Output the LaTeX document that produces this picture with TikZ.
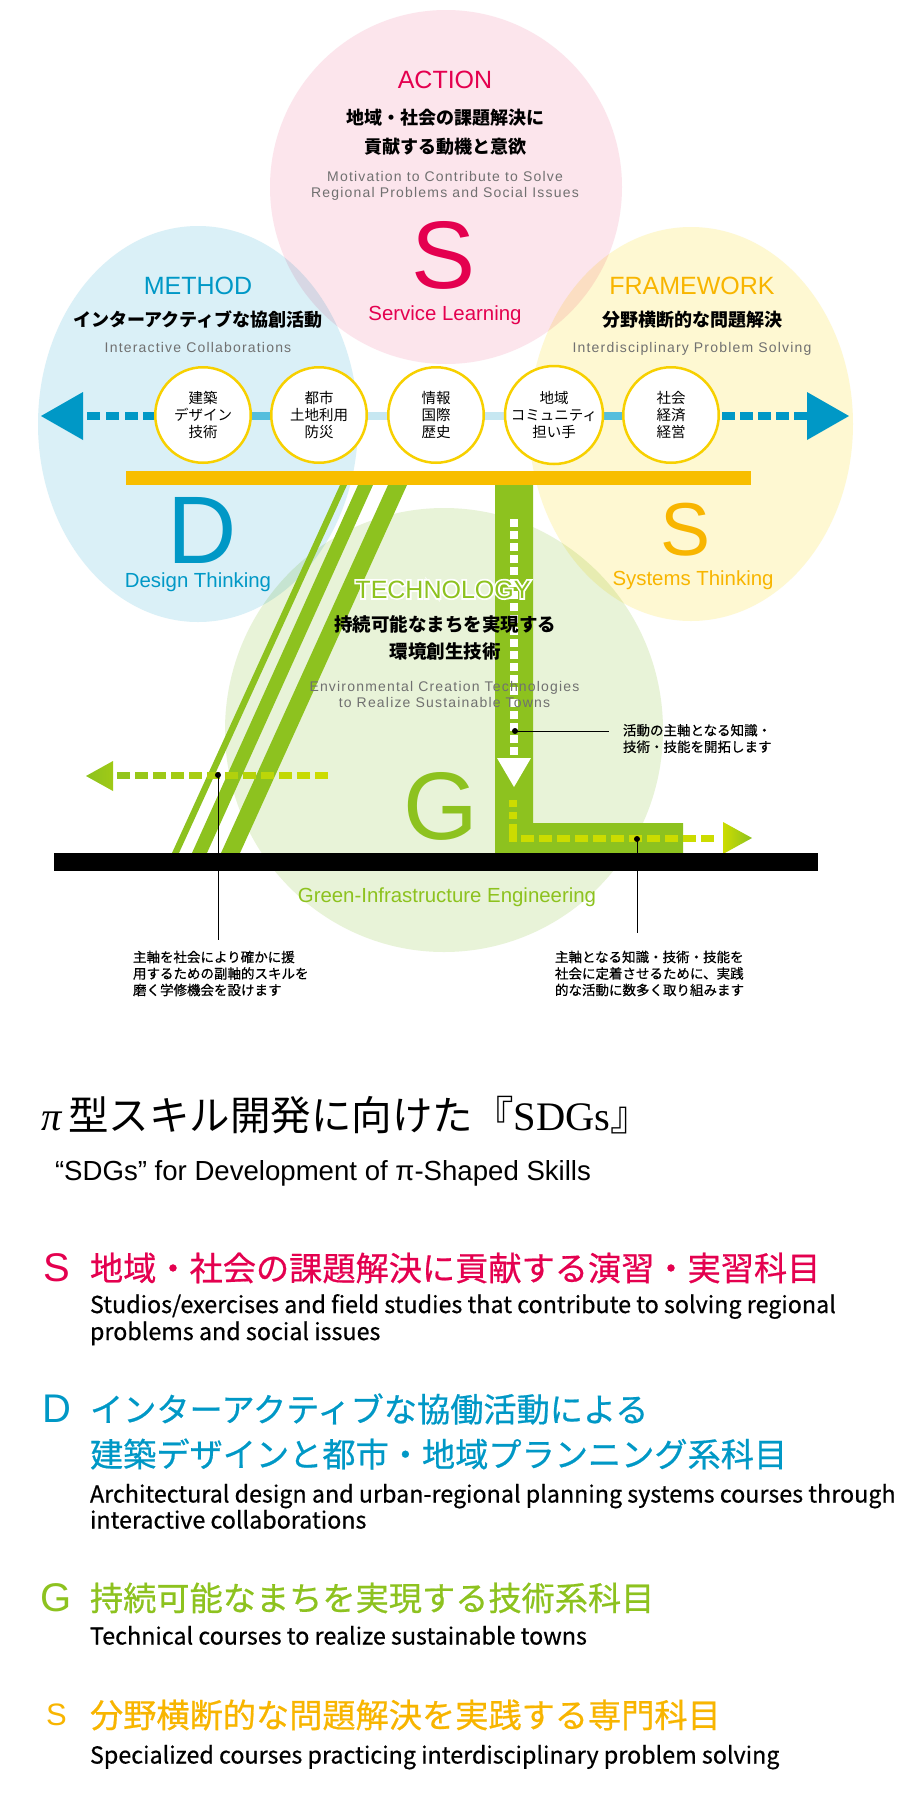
\documentclass[tikz,border=0pt]{standalone}
\usepackage{fontspec}
\setmainfont{Liberation Sans}
\newfontfamily\jp{Noto Sans CJK JP}
\newfontfamily\jpm[FakeBold=0.6]{Noto Sans CJK JP}
\newfontfamily\gsp[LetterSpace=8.5]{Liberation Sans}
\newfontfamily\glowf[FakeBold=14]{Liberation Sans}
\newfontfamily\srf{Liberation Serif}
\newcommand\fz[2]{\fontsize{#1pt}{#2pt}\selectfont}
\definecolor{crim}{HTML}{E4004F}
\definecolor{sblue}{HTML}{0098C6}
\definecolor{syel}{HTML}{F8B500}
\definecolor{sgreen}{HTML}{8DC21F}
\definecolor{ygreen}{HTML}{CCDC00}
\definecolor{obar}{HTML}{F8BE00}
\definecolor{ringy}{HTML}{F7D000}
\definecolor{pinkf}{HTML}{FCE5EC}
\definecolor{bluef}{HTML}{DAF0F7}
\definecolor{yelf}{HTML}{FEF8D2}
\definecolor{greenf}{HTML}{E8F3D8}
\definecolor{gtext}{HTML}{707070}
\definecolor{lblueA}{HTML}{55BEDD}
\definecolor{lblueB}{HTML}{C6E7F1}
\begin{document}
\begin{tikzpicture}[x=1pt,y=-1pt,
  lbl/.style={inner sep=0pt, outer sep=0pt},
  ring/.style={circle, draw=ringy, line width=2.5pt, fill=white, minimum size=95.5pt,
    inner sep=0pt, align=center, font=\jp\fz{14.5}{17}},
  bigletter/.style={lbl, font=\fz{96}{96}},
  head/.style={lbl, anchor=base, font=\fz{25}{30}},
  jpbold/.style={lbl, align=center, font=\jp\bfseries\fz{18}{29}},
  graytxt/.style={lbl, align=center, text=gtext, font=\gsp\fz{14}{16}},
  sub/.style={lbl, anchor=base, font=\fz{20.4}{24}},
  ann/.style={lbl, anchor=west, align=left, font=\jpm\fz{13.5}{16.5}},
  annline/.style={line width=1pt, black},
  dot/.style={fill=black},
  listjp/.style={lbl, anchor=west, font=\jpm\fz{33.2}{40}},
  listen/.style={lbl, anchor=base west, font=\jpm\fz{23.3}{28}},
  listletter/.style={lbl, font=\fz{40}{40}}
]
\useasboundingbox (0,0) rectangle (909,1802);
\fill[white] (0,0) rectangle (909,1802);

% ---- big background ellipses
\begin{scope}[blend mode=multiply]
  \fill[pinkf] (446,187) ellipse [x radius=176pt, y radius=177pt];
  \fill[bluef] (198,424) ellipse [x radius=160pt, y radius=198pt];
  \fill[yelf] (691,424) ellipse [x radius=162pt, y radius=197pt];
  \fill[greenf] (444,730) ellipse [x radius=219pt, y radius=222pt];
\end{scope}

% ---- blue dashed double arrow
\fill[sblue] (83,392) -- (41,416) -- (83,440) -- cycle;
\fill[sblue] (807,392) -- (849,416) -- (807,440) -- cycle;
\foreach \xx in {87,106,125,143} { \fill[sblue] (\xx,412) rectangle ++(13,8); }
\foreach \xx in {722,740,758,776,794} { \fill[sblue] (\xx,412) rectangle ++(13,8); }
\fill[lblueA] (250,412) rectangle (272,420);
\fill[lblueB] (366,412) rectangle (389,420);
\fill[lblueB] (483,412) rectangle (507,420);
\fill[lblueA] (601,412) rectangle (624,420);

% ---- circles
\node[ring] (c1) at (203,415) {建築\\デザイン\\技術};
\node[ring] (c2) at (319,415) {都市\\土地利用\\防災};
\node[ring] (c3) at (436,415) {情報\\国際\\歴史};
\node[ring] (c4) at (554,415) {地域\\コミュニティ\\担い手};
\node[ring] (c5) at (671,415) {社会\\経済\\経営};

% ---- orange bar
\fill[obar] (126,471) rectangle (751,485);

% ---- green diagonal stripes
\fill[sgreen] (340,485) -- (347,485) -- (179,853) -- (172,853) -- cycle;
\fill[sgreen] (358,485) -- (373,485) -- (207,853) -- (192,853) -- cycle;
\fill[sgreen] (388,485) -- (407,485) -- (240,853) -- (221,853) -- cycle;

% ---- green L bar
\fill[sgreen] (495,485) -- (533,485) -- (533,823) -- (683,823) -- (683,853) -- (495,853) -- cycle;
\foreach \yy in {519,531,...,747} { \fill[white] (510,\yy) rectangle ++(8,8); }
\fill[white] (497,758) -- (531,758) -- (514,787) -- cycle;
\fill[ygreen] (509,800) rectangle (517,807);
\fill[ygreen] (509,812) rectangle (517,819);
\fill[ygreen] (509,824) rectangle (517,842);
\foreach \i in {0,...,10} { \fill[ygreen] (521+18*\i,835) rectangle ++(13,7); }
\shade[left color=ygreen, right color=sgreen] (723,822) -- (752,838) -- (723,854) -- cycle;

% ---- left green dashed arrow
\foreach \i in {0,...,11} {
  \pgfmathsetmacro\xx{315-18*\i}
  \pgfmathsetmacro\pp{90*\i/11}
  \fill[sgreen!\pp!ygreen] (\xx,772) rectangle ++(13,7);
}
\shade[left color=sgreen, right color=sgreen!70!ygreen] (113,761) -- (86,776) -- (113,791) -- cycle;

% ---- black bar
\fill[black] (54,853) rectangle (818,871);

% ---- annotation dots and lines
\coordinate (d1) at (515,731);
\coordinate (e1) at (609,731);
\coordinate (d2) at (218,775);
\coordinate (e2) at (218,940);
\coordinate (d3) at (637,839);
\coordinate (e3) at (637,933);
\draw[annline] (d1) -- (e1);
\draw[annline] (d2) -- (e2);
\draw[annline] (d3) -- (e3);
\fill[dot] (d1) circle (3pt);
\fill[dot] (d2) circle (3pt);
\fill[dot] (d3) circle (3pt);

% ---- ACTION
\node[head, text=crim] (action) at (445,88) {ACTION};
\node[jpbold] (actjp) at (445,132.5) {地域・社会の課題解決に\\貢献する動機と意欲};
\node[graytxt] (acten) at (445,186) {Motivation to Contribute to Solve\\Regional Problems and Social Issues};
\node[bigletter, text=crim] (bigS) at (444,255) {S};
\node[sub, text=crim] (service) at (445,320.4) {Service Learning};

% ---- METHOD
\node[head, text=sblue] (method) at (198,294) {METHOD};
\node[jpbold] (methjp) at (198,320) {インターアクティブな協創活動};
\node[graytxt, anchor=base] (methen) at (198,352) {Interactive Collaborations};
\node[bigletter, text=sblue] (bigD) at (202,530) {D};
\node[sub, text=sblue] (design) at (198,587) {Design Thinking};

% ---- FRAMEWORK
\node[head, text=syel] (frame) at (692,294) {FRAMEWORK};
\node[jpbold] (framejp) at (692,320) {分野横断的な問題解決};
\node[graytxt, anchor=base] (frameen) at (692,352) {Interdisciplinary Problem Solving};
\node[lbl, font=\fz{75}{75}, text=syel] (bigS2) at (686,530) {S};
\node[sub, text=syel] (systems) at (693,585) {Systems Thinking};

% ---- TECHNOLOGY (white halo so it shows over the green bar)
\node[head, text=white, font=\glowf\fz{25}{30}] (techhalo) at (443,598) {TECHNOLOGY};
\node[head, text=sgreen] (tech) at (443,598) {TECHNOLOGY};
\node[jpbold, font=\jp\bfseries\fz{18.5}{27}] (techjp) at (445,637.5) {持続可能なまちを実現する\\環境創生技術};
\node[graytxt] (techen) at (444.5,694.5) {Environmental Creation Technologies\\to Realize Sustainable Towns};
\node[bigletter, text=sgreen] (bigG) at (441,806) {G};
\node[sub, text=sgreen] (green) at (447,902.4) {Green-Infrastructure Engineering};

% ---- annotations
\node[ann] (ann1) at (623,738.5) {活動の主軸となる知識・\\技術・技能を開拓します};
\node[ann] (ann2) at (133,973.5) {主軸を社会により確かに援\\用するための副軸的スキルを\\磨く学修機会を設けます};
\node[ann] (ann3) at (555,973.5) {主軸となる知識・技術・技能を\\社会に定着させるために、実践\\的な活動に数多く取り組みます};

% ---- bottom title
\node[lbl, anchor=base west] (title) at (41,1130) {{\srf\itshape\fz{40.5}{42}π\,}{\jp\fz{40.5}{42}型スキル開発に向けた『}{\srf\fz{40.5}{42}SDGs}{\jp\fz{40.5}{42}』}};
\node[lbl, anchor=base west, font=\fz{27.6}{30}] (subtitle) at (55,1180) {“SDGs” for Development of π-Shaped Skills};

% ---- list
\node[listletter, text=crim] (lS) at (56.5,1268) {S};
\node[listjp, text=crim] (lSj) at (90,1268) {地域・社会の課題解決に貢献する演習・実習科目};
\node[listen] (lSe1) at (90,1313) {Studios/exercises and field studies that contribute to solving regional};
\node[listen] (lSe2) at (90,1340) {problems and social issues};

\node[listletter, text=sblue] (lD) at (56.5,1409) {D};
\node[listjp, text=sblue] (lDj1) at (90,1409) {インターアクティブな協働活動による};
\node[listjp, text=sblue] (lDj2) at (90,1454) {建築デザインと都市・地域プランニング系科目};
\node[listen] (lDe1) at (90,1502.5) {Architectural design and urban-regional planning systems courses through};
\node[listen] (lDe2) at (90,1528.5) {interactive collaborations};

\node[listletter, text=sgreen] (lG) at (56.5,1598) {G};
\node[listjp, text=sgreen] (lGj) at (90,1598) {持続可能なまちを実現する技術系科目};
\node[listen] (lGe) at (90,1644.5) {Technical courses to realize sustainable towns};

\node[lbl, font=\fz{31}{31}, text=syel] (lS2) at (56.5,1715) {S};
\node[listjp, text=syel] (lS2j) at (90,1715) {分野横断的な問題解決を実践する専門科目};
\node[listen] (lS2e) at (90,1763.5) {Specialized courses practicing interdisciplinary problem solving};
\end{tikzpicture}
\end{document}
